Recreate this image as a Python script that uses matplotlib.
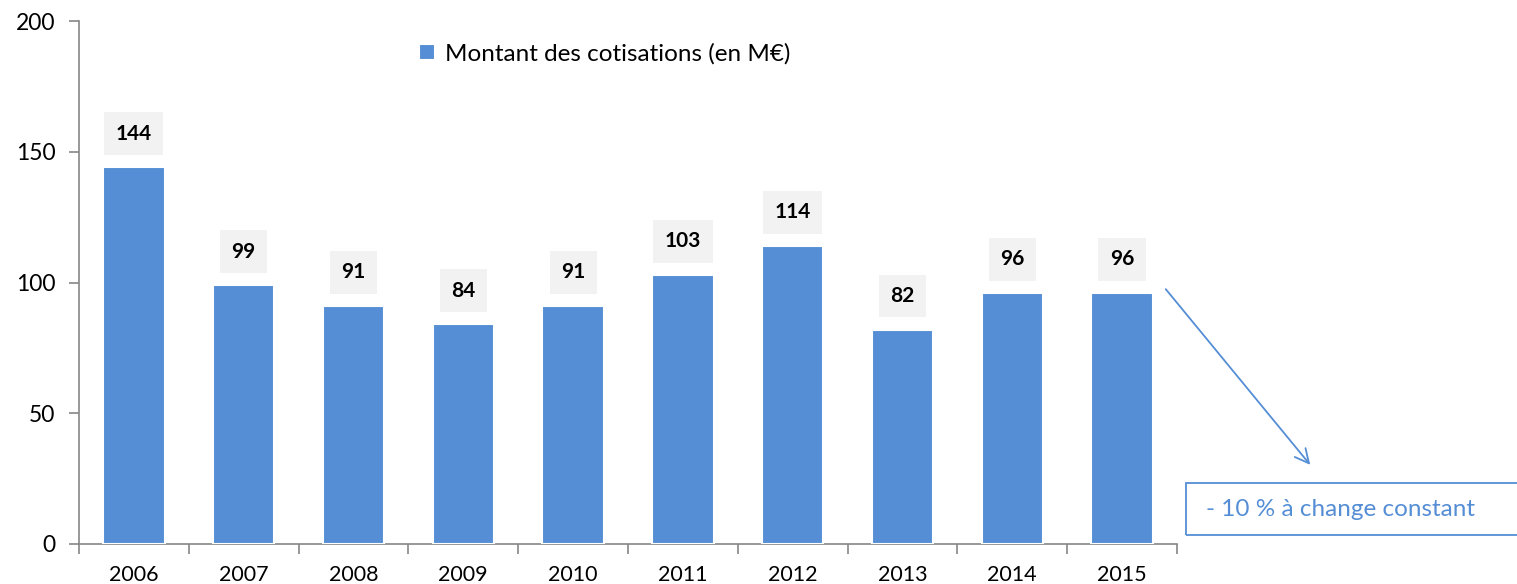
import matplotlib.pyplot as plt
from matplotlib.patches import Rectangle
import numpy as np

plt.rcParams['font.family'] = ['Lato', 'DejaVu Sans']

years = ["2006", "2007", "2008", "2009", "2010", "2011", "2012", "2013", "2014", "2015"]
cotisations = [144, 99, 91, 84, 91, 103, 114, 82, 96, 96]
serie_label = "Montant des cotisations (en M€)"
note = "- 10 % à change constant"

BLUE = "#558ED5"
GREY = "#868686"

W, H = 1517, 584
fig = plt.figure(figsize=(W / 100, H / 100), dpi=100)
ax = fig.add_axes([79 / W, 1 - 544 / H, (1177 - 79) / W, (544 - 21) / H])

x = np.arange(len(years))
bars = ax.bar(x, cotisations, width=0.56, color=BLUE, edgecolor="white",
              linewidth=1.5, label=serie_label, zorder=3)

for xi, v in zip(x, cotisations):
    ax.text(xi, v + 9, str(v), ha="center", va="bottom", fontsize=15,
            fontweight="bold", color="black",
            bbox=dict(boxstyle="square,pad=0.55", fc="#f2f2f2", ec="none"))

ax.set_xlim(-0.5, len(years) - 0.5)
ax.set_ylim(0, 200)
ax.set_yticks([0, 50, 100, 150, 200])
ax.set_xticks(x)
ax.set_xticklabels(years)
ax.set_xticks(np.arange(-0.5, len(years)), minor=True)
ax.tick_params(axis="x", which="major", length=0, labelsize=15.5, pad=15)
ax.tick_params(axis="x", which="minor", length=7, color=GREY, width=1.2)
ax.tick_params(axis="y", length=7, color=GREY, width=1.2, labelsize=16.5, pad=10)

for s in ["top", "right"]:
    ax.spines[s].set_visible(False)
for s in ["left", "bottom"]:
    ax.spines[s].set_color(GREY)
    ax.spines[s].set_linewidth(1.2)

ax.legend(loc="upper left", bbox_to_anchor=(0.29, 1.0), frameon=False,
          fontsize=17.5, handlelength=0.65, handleheight=0.65, handletextpad=0.4)

# flèche et encadré de la variation
ax.annotate("", xy=(1312, H - 467), xytext=(1164, H - 287),
            xycoords="figure pixels", textcoords="figure pixels",
            arrowprops=dict(arrowstyle="->", color=BLUE, lw=1.3,
                            mutation_scale=25))
fig.patches.append(Rectangle((1186 / W, 49 / H), 340 / W, 52 / H,
                             transform=fig.transFigure, fill=False,
                             ec=BLUE, lw=1.3))
fig.text(1206 / W, 74 / H, note, color=BLUE, fontsize=17.5, va="center")

fig.savefig("out.png", dpi=100)
